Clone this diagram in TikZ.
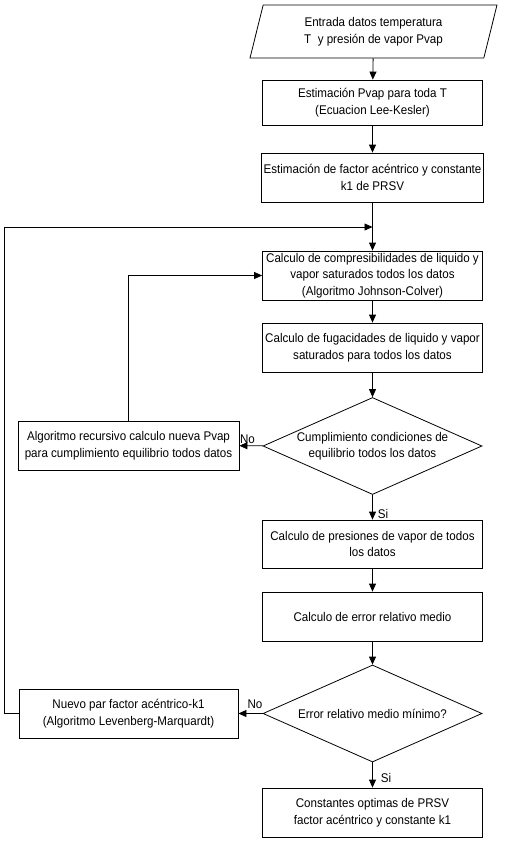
\documentclass[tikz,border=0pt]{standalone}
\usepackage{fontspec}
\setmainfont{Liberation Sans}[FakeStretch=0.92]
\usepackage{tikz}
\usetikzlibrary{arrows.meta,positioning}
\usetikzlibrary{shapes.geometric}

\begin{document}
\begin{tikzpicture}[x=1pt,y=-1pt,
  font=\fontsize{12.6}{16.5}\selectfont,
  procbox/.style={draw, line width=0.8pt, align=center, minimum width=220pt, minimum height=49pt, inner sep=2pt},
  decision/.style={draw, line width=0.8pt, diamond, aspect=2.26, align=center, minimum width=219pt, minimum height=97pt, inner sep=0pt},
  flow/.style={line width=0.8pt, -{Triangle[length=8pt,width=7pt]}}]
\useasboundingbox (0,0) rectangle (504,848);

% Data input
\node[draw, line width=0.8pt, trapezium, trapezium left angle=65, trapezium right angle=115,
      trapezium stretches body, minimum width=247pt, minimum height=53pt, align=center, inner sep=0pt]
  (input) at (373.5,31.5) {Entrada datos temperatura\\T\ \ y presión de vapor Pvap};

% Main column
\node[procbox, minimum height=45pt] (leekesler) at (372.5,102.5) {Estimación Pvap para toda T\\(Ecuacion Lee-Kesler)};
\node[procbox] (factor) at (372.5,177.5) {Estimación de factor acéntrico y constante\\k1 de PRSV};
\node[procbox] (compres) at (372.5,275.5) {Calculo de compresibilidades de liquido y\\vapor saturados todos los datos\\(Algoritmo Johnson-Colver)};
\node[procbox] (fugac) at (372.5,347.5) {Calculo de fugacidades de liquido y vapor\\saturados para todos los datos};
\node[decision] (equil) at (372.5,446) {Cumplimiento condiciones de\\equilibrio todos los datos};
\node[procbox, minimum height=48pt] (presion) at (372.5,544) {Calculo de presiones de vapor de todos\\los datos};
\node[procbox] (error) at (372.5,616.5) {Calculo de error relativo medio};
\node[decision] (minimo) at (372.5,713.5) {Error relativo medio mínimo?};
\node[procbox] (optimas) at (372.5,812.5) {Constantes optimas de PRSV\\factor acéntrico y constante k1};

% Side boxes
\node[procbox, minimum width=221pt] (recursivo) at (128.5,445.5) {Algoritmo recursivo calculo nueva Pvap\\para cumplimiento equilibrio todos datos};
\node[procbox, minimum width=219pt] (levenberg) at (128.5,713.5) {Nuevo par factor acéntrico-k1\\(Algoritmo Levenberg-Marquardt)};

% Connectors
\coordinate (merge) at (372.5,227);
\draw[flow] (input) -- (leekesler);
\draw[flow] (leekesler) -- (factor);
\draw[flow] (factor) -- (compres);
\draw[flow] (compres) -- (fugac);
\draw[flow] (fugac) -- (equil);
\draw[flow] (equil) -- (presion);
\draw[flow] (presion) -- (error);
\draw[flow] (error) -- (minimo);
\draw[flow] (minimo) -- (optimas);
\draw[flow] (equil) -- (recursivo);
\draw[flow] (minimo) -- (levenberg);
\draw[flow] (recursivo.north) |- (compres.west);
\draw[flow] (levenberg.west) -- ++(-14,0) |- (merge);

% Labels
\node at (247.5,439) {No};
\node at (255,704) {No};
\node at (383,514) {Si};
\node at (386,778) {Si};
\end{tikzpicture}
\end{document}
